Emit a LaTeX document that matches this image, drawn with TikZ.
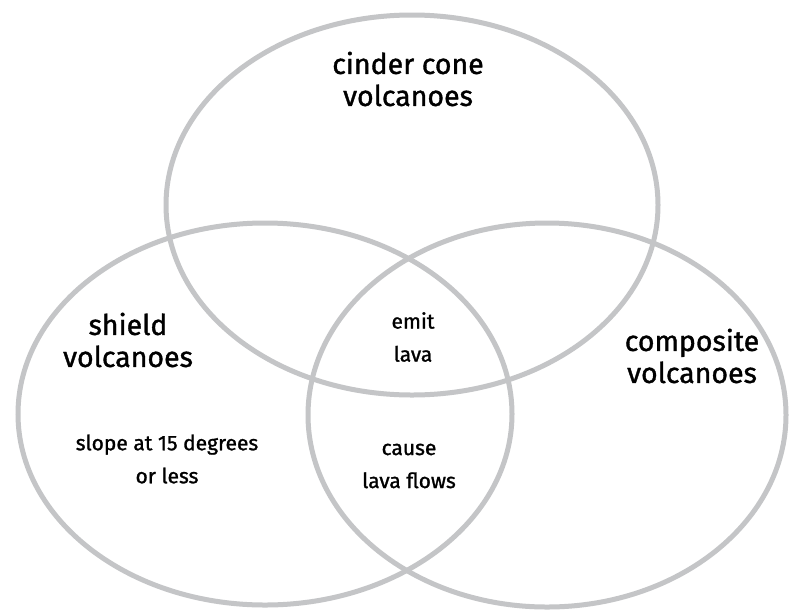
\documentclass[tikz,border=0pt]{standalone}
\usepackage{fontspec}
\setmainfont{Fira Sans}
\newfontfamily\labelfont{Fira Sans}[FakeBold=1.2]
\definecolor{ringgray}{RGB}{196,197,199}
\begin{document}
\begin{tikzpicture}[x=1pt,y=-1pt,
  ring/.style={draw=ringgray,line width=5pt},
  biglabel/.style={font=\labelfont\fontsize{28.5}{32}\selectfont,align=center,inner sep=0pt},
  smalllabel/.style={font=\labelfont\fontsize{21}{33}\selectfont,align=center,inner sep=0pt}]
\useasboundingbox[fill=white] (0,0) rectangle (789,611);
\draw[ring] (412,205) ellipse [x radius=246, y radius=190];
\draw[ring] (265,414) ellipse [x radius=247, y radius=191];
\draw[ring] (547,415) ellipse [x radius=239, y radius=192];
\node[biglabel] (cinder) at (408,79) {cinder cone\\volcanoes};
\node[biglabel] (shield) at (128,340) {shield\\volcanoes};
\node[biglabel] (composite) at (692,356) {composite\\volcanoes};
\node[smalllabel] (emit) at (413,337) {emit\\lava};
\node[smalllabel] (cause) at (409,466) {cause\\lava flows};
\node[smalllabel] (slope) at (167,459) {slope at 15 degrees\\or less};
\end{tikzpicture}
\end{document}
